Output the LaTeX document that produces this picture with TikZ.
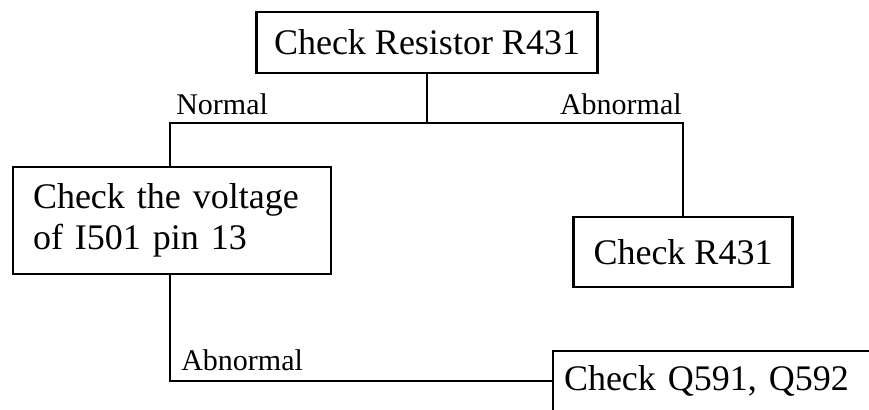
\documentclass[tikz,border=0pt]{standalone}
\usepackage{fontspec}
\setmainfont{Liberation Serif}
\begin{document}
\begin{tikzpicture}[x=0.5pt, y=-0.5pt, line width=1.3pt,
  box/.style={draw, rectangle, inner sep=0pt, font=\fontsize{18}{20.5}\selectfont},
  lbl/.style={inner sep=0pt, font=\fontsize{15}{17}\selectfont}]
\clip (0,0) rectangle (869,409);

\node[box, minimum width=170.5pt, minimum height=30.5pt] (chk) at (427,42.5) {Check Resistor R431};
\node[box, align=left, text width=139pt, inner xsep=10pt, minimum height=53.5pt] (volt) at (172,220.5) {Check the voltage\\of I501 pin 13};
\node[box, minimum width=109.5pt, minimum height=35pt] (r431) at (683,252) {Check R431};
\node[box, align=left, text width=154pt, inner xsep=5.5pt, minimum height=30pt] (q59) at (718,381) {Check Q591, Q592};

\coordinate (nl) at (170,123);
\coordinate (ab) at (r431.north |- nl);
\coordinate (fork) at (chk.south |- nl);
\coordinate (low) at (170,381);

\draw (chk.south) -- (fork);
\draw (volt.north -| nl) -- (nl) -- (ab) -- (r431.north);
\draw (volt.south -| low) -- (low) -- (q59.west);

\node[lbl, anchor=base west] (normal) at (175,114) {Normal};
\node[lbl, anchor=base east] (abnormal) at (683,114) {Abnormal};
\node[lbl, anchor=base west] (abnormal2) at (180,370) {Abnormal};
\end{tikzpicture}
\end{document}
